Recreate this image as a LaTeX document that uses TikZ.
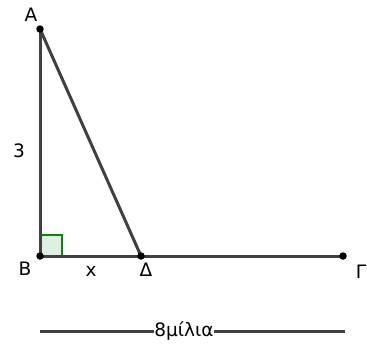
\documentclass[tikz,border=0pt]{standalone}
\usepackage{fontspec}
\setmainfont{DejaVu Sans}
\begin{document}
\begin{tikzpicture}[x=1pt,y=-1pt,
  seg/.style={draw=black!75,line width=3pt},
  pt/.style={circle,fill=black,inner sep=0pt,minimum size=7.5pt},
  lbl/.style={font=\fontsize{18.5}{20}\selectfont,inner sep=0pt,text=black}]
\useasboundingbox (0,0) rectangle (367,343);
\coordinate (A) at (40,29);
\coordinate (B) at (40,256);
\coordinate (D) at (141,256);
\coordinate (G) at (343,256);
\filldraw[fill=green!50!black!12,draw=green!55!black,line width=2pt] (B) rectangle (62,235);
\draw[seg] (A) -- (B);
\draw[seg] (A) -- (D);
\draw[seg] (B) -- (G);
\node[pt] (pA) at (A) {};
\node[pt] (pB) at (B) {};
\node[pt] (pD) at (D) {};
\node[pt] (pG) at (G) {};
\node[lbl] (lA) at (31,15) {A};
\node[lbl] (lB) at (25,269) {B};
\node[lbl] (lx) at (91,271) {x};
\node[lbl] (lD) at (146,270) {Δ};
\node[lbl] (lG) at (361,272) {Γ};
\node[lbl] (l3) at (19,151) {3};
\coordinate (L1) at (40,331);
\coordinate (L2) at (345,331);
\draw[seg] (L1) -- (L2);
\node[lbl,fill=white,inner xsep=0.3pt,inner ysep=0pt] (dist) at (184,331) {8μίλια};
\end{tikzpicture}
\end{document}
